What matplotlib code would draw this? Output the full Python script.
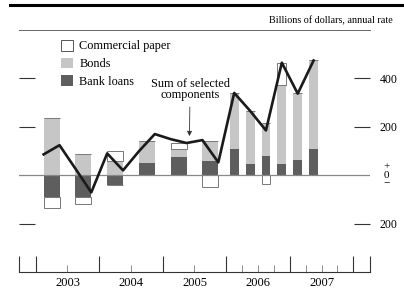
import matplotlib
matplotlib.use("Agg")
import matplotlib.pyplot as plt
from matplotlib.lines import Line2D
from matplotlib.patches import Patch
import numpy as np

plt.rcParams['font.family'] = ['Liberation Serif', 'DejaVu Serif']

# bars: half-years 2003-2005, quarters 2006-2007:Q2
bar_periods = ['2003H1', '2003H2', '2004H1', '2004H2', '2005H1', '2005H2',
               '2006Q1', '2006Q2', '2006Q3', '2006Q4', '2007Q1', '2007Q2']
bank_loans = [-91, -89, -42, 51, 77, 58, 110, 47, 79, 47, 61, 107]
bonds = [238, 86, 58, 91, 30, 84, 230, 219, 138, 324, 278, 370]
comm_paper = [-43, -28, 40, 0, 28, -47, 0, 0, -38, 94, 0, 0]

# quarterly sum of selected components
line_periods = ['2003Q1', '2003Q2', '2003Q3', '2003Q4',
                '2004Q1', '2004Q2', '2004Q3', '2004Q4',
                '2005Q1', '2005Q2', '2005Q3', '2005Q4',
                '2006Q1', '2006Q2', '2006Q3', '2006Q4',
                '2007Q1', '2007Q2']
total = [86, 124, 27, -71, 90, 20, 99, 170, 149, 133, 145, 53,
         340, 266, 185, 465, 337, 474]

years = [2003, 2004, 2005, 2006, 2007]

BONDS_C = '#c6c6c6'
LOANS_C = '#5e5e5e'


def period_pos(p):
    yr = int(p[:4])
    n = int(p[5])
    if p[4] == 'H':
        return yr + (n - 0.5) / 2, 0.25
    return yr + (n - 0.5) / 4, 0.14


fig = plt.figure(figsize=(4.04, 2.91), dpi=100)
ax = fig.add_axes([19 / 404, (291 - 272) / 291, 351 / 404, 242 / 291])

xs = np.array([period_pos(p)[0] for p in bar_periods])
ws = np.array([period_pos(p)[1] for p in bar_periods])

styles = [
    ('Bank loans', bank_loans, dict(color=LOANS_C, edgecolor='none')),
    ('Bonds', bonds, dict(color=BONDS_C, edgecolor='none')),
    ('Commercial paper', comm_paper, dict(facecolor='white', edgecolor='#777777', linewidth=0.7)),
]
pos_base = np.zeros(len(xs))
neg_base = np.zeros(len(xs))
for name, vals, kw in styles:
    vals = np.array(vals, dtype=float)
    pos = np.where(vals > 0, vals, 0)
    neg = np.where(vals < 0, vals, 0)
    ax.bar(xs, pos, width=ws, bottom=pos_base, **kw)
    ax.bar(xs, neg, width=ws, bottom=neg_base, **kw)
    pos_base += pos
    neg_base += neg

lx = [period_pos(p)[0] for p in line_periods]
ax.plot(lx, total, color='#1a1a1a', linewidth=1.9, zorder=5)

ax.axhline(0, color='#888888', linewidth=0.9, zorder=1)

ax.set_xlim(2002.737, 2008.263)
ax.set_ylim(-400, 600)

for s in ['left', 'right']:
    ax.spines[s].set_visible(False)
ax.spines['top'].set_color('#666666')
ax.spines['top'].set_linewidth(0.7)
ax.spines['bottom'].set_color('#333333')
ax.spines['bottom'].set_linewidth(0.8)

# y ticks: dashes on both sides, labels right
ax.set_yticks([-200, 200, 400])
ax.set_yticklabels(['200', '200', '400'])
ax.tick_params(axis='y', which='major', direction='in', length=11.5, width=0.8,
               color='#333333', left=True, right=True, labelleft=False,
               labelright=True, labelsize=8.5, pad=7)
ax.text(1.048, 0.0, '+\n0\n\u2212', transform=ax.get_yaxis_transform(),
        ha='center', va='center', fontsize=8, linespacing=0.9)

# x ticks
major = [2002.737] + [2003, 2004, 2005, 2006, 2007, 2008] + [2008.263]
ax.set_xticks(major)
ax.set_xticklabels([])
mids = [2003.5, 2004.5, 2005.5]
quarters = [2006.25, 2006.5, 2006.75, 2007.25, 2007.5, 2007.75]
ax.set_xticks(mids + quarters, minor=True)
ax.tick_params(axis='x', which='major', direction='in', length=11.5, width=0.8,
               color='#333333', top=False)
ax.tick_params(axis='x', which='minor', direction='in', length=5, width=0.6,
               color='#777777', top=False)
for yr in years:
    ax.text(yr + 0.5, -0.022, str(yr), transform=ax.get_xaxis_transform(),
            ha='center', va='top', fontsize=9)

# legend
handles = [Patch(facecolor='white', edgecolor='#555555', linewidth=0.7),
           Patch(facecolor=BONDS_C, edgecolor='none'),
           Patch(facecolor=LOANS_C, edgecolor='none')]
ax.legend(handles, ['Commercial paper', 'Bonds', 'Bank loans'],
          loc='upper left', bbox_to_anchor=(61 / 404, 1 - 40 / 291),
          bbox_transform=fig.transFigure, frameon=False, fontsize=8.8,
          handlelength=0.95, handleheight=0.95, handletextpad=0.55,
          labelspacing=0.42, borderaxespad=0, borderpad=0)

ax.annotate('Sum of selected\ncomponents', xy=(2005.42, 150), xytext=(2005.43, 305),
            ha='center', va='bottom', fontsize=8.8, linespacing=0.95,
            arrowprops=dict(arrowstyle='-|>', color='#333333', lw=0.6,
                            mutation_scale=7))

# header
fig.add_artist(Line2D([10 / 404, 1], [1 - 5 / 291] * 2, color='black', linewidth=2.2))
fig.text(393 / 404, 1 - 21 / 291, 'Billions of dollars, annual rate',
         ha='right', va='center', fontsize=7.3)

fig.savefig('out.png', dpi=100)
